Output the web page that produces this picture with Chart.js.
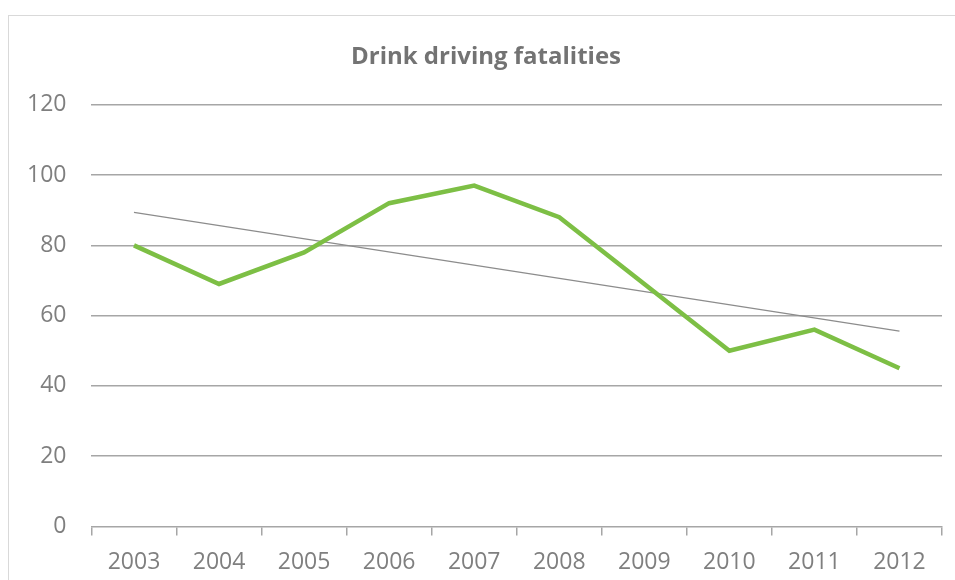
<!DOCTYPE html>
<html>
<head>
<meta charset="utf-8">
<script src="https://cdn.jsdelivr.net/npm/chart.js@4"></script>
<style>
  html, body { margin: 0; padding: 0; background: #fff; overflow: hidden; }
  #frame {
    position: absolute; left: 8px; top: 15px; width: 960px; height: 580px;
    border: 1px solid #d9d9d9; box-sizing: border-box;
  }
  #grafico { position: absolute; left: 0; top: 0; }
</style>
</head>
<body>
<div id="frame"></div>
<canvas id="grafico" width="955" height="590"></canvas>
<script>
  var anos = ["2003", "2004", "2005", "2006", "2007", "2008", "2009", "2010", "2011", "2012"];
  var mortes = [80, 69, 78, 92, 97, 88, 69, 50, 56, 45];
  // linear trend, only first and last year
  var tendencia = [89.4, null, null, null, null, null, null, null, null, 55.6];
  var escalaY = [0, 20, 40, 60, 80, 100, 120];

  var corTexto = '#7f7f7f';
  var fonte = "'Open Sans', sans-serif";

  // nudges the title block a little to the right
  var deslocaTitulo = {
    id: 'deslocaTitulo',
    afterLayout: function (chart) {
      if (chart.titleBlock) {
        chart.titleBlock.left += 14;
        chart.titleBlock.right += 14;
      }
    }
  };

  var configGrafico = {
    type: 'line',
    data: {
      labels: anos,
      datasets: [{
        label: 'Fatalities',
        data: mortes,
        borderColor: '#7dbf45',
        borderWidth: 4.5,
        pointRadius: 0,
        tension: 0,
        borderJoinStyle: 'miter'
      }, {
        label: 'Trend',
        data: tendencia,
        spanGaps: true,
        borderColor: '#8c8c8c',
        borderWidth: 1.2,
        pointRadius: 0
      }]
    },
    options: {
      responsive: false,
      animation: false,
      layout: { padding: { left: 2, right: 13, top: 10, bottom: 0 } },
      plugins: {
        legend: { display: false },
        tooltip: { enabled: false },
        title: {
          display: true,
          text: 'Drink driving fatalities',
          color: '#737373',
          font: { family: fonte, size: 24, weight: 'bold' },
          padding: { top: 33, bottom: 33 }
        }
      },
      scales: {
        x: {
          offset: true,
          grid: {
            offset: true,
            drawOnChartArea: false,
            drawTicks: true,
            tickLength: 9,
            color: '#a6a6a6',
            lineWidth: 1.5
          },
          border: { display: true, color: '#a6a6a6', width: 1.5 },
          ticks: {
            color: corTexto,
            font: { family: fonte, size: 23 },
            padding: 13.5,
            maxRotation: 0
          }
        },
        y: {
          min: escalaY[0],
          max: escalaY[escalaY.length - 1],
          afterBuildTicks: function (eixo) {
            eixo.ticks = escalaY.map(function (v) { return { value: v }; });
          },
          grid: {
            drawTicks: false,
            color: function (ctx) { return ctx.tick.value === 0 ? 'rgba(0,0,0,0)' : '#a6a6a6'; },
            lineWidth: 1.5
          },
          border: { display: false },
          ticks: {
            color: corTexto,
            font: { family: fonte, size: 23 },
            padding: 25
          }
        }
      }
    },
    plugins: [deslocaTitulo]
  };

  var grafico = new Chart(document.getElementById('grafico'), configGrafico);
</script>
</body>
</html>
